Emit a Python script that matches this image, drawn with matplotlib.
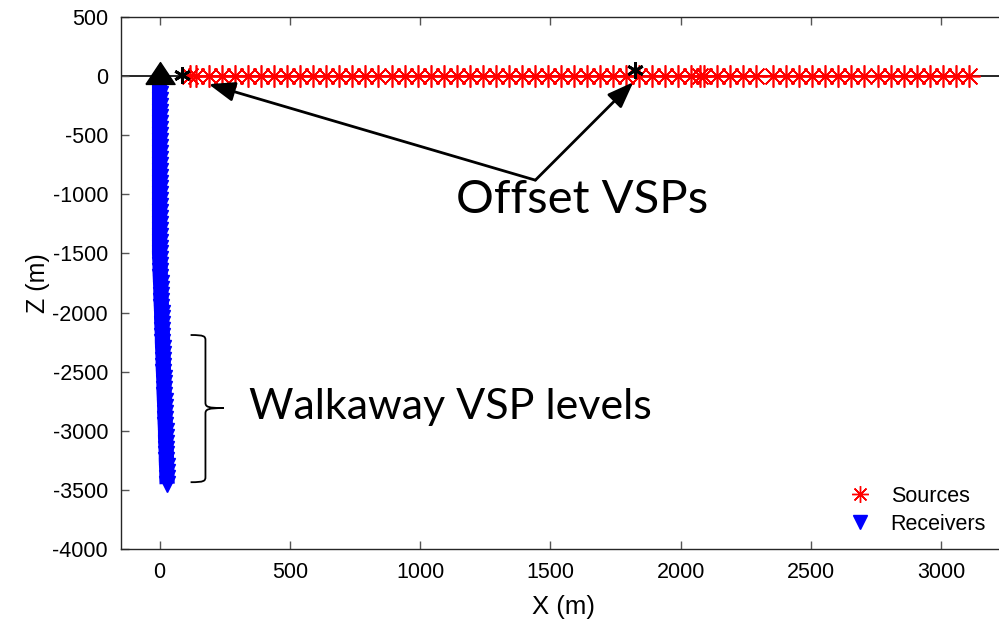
import matplotlib
matplotlib.use('Agg')
import matplotlib.pyplot as plt
from matplotlib.path import Path
from matplotlib.patches import PathPatch
from matplotlib.lines import Line2D

plt.rcParams['axes.unicode_minus'] = False

# Source positions along the surface line (m)
sources_x = [115, 140, 190, 240, 290, 340, 390, 440, 490, 540, 590, 640, 690,
             740, 790, 840, 890, 940, 990, 1040, 1090, 1140, 1190, 1240, 1290,
             1340, 1390, 1440, 1490, 1540, 1590, 1640, 1690, 1740, 1790, 1840,
             1890, 1940, 1990, 2040, 2075, 2090, 2140, 2190, 2240, 2290, 2355,
             2405, 2455, 2505, 2555, 2605, 2655, 2705, 2755, 2805, 2855, 2905,
             2955, 3005, 3055, 3105]
sources_z = [0.0] * len(sources_x)

# Receiver levels in the well (m)
rec_z = [-50, -100, -150, -200, -250, -300, -350, -400, -450, -500,
         -550, -600, -650, -700, -750, -800, -850, -900, -950, -1000,
         -1050, -1100, -1150, -1200, -1250, -1300, -1350, -1400, -1450, -1500,
         -1550, -1600, -1650, -1700, -1750, -1800, -1850, -1900, -1950, -2000,
         -2050, -2100, -2150, -2200, -2250, -2300, -2350, -2400, -2450, -2500,
         -2550, -2600, -2650, -2700, -2750, -2800, -2850, -2900, -2950, -3000,
         -3050, -3100, -3150, -3200, -3250, -3300, -3350, -3400, -3450]
rec_x = [0, 0, 0, 0, 0, 0, 0, 0, 0, 0,
         0, 0, 0, 0, 0, 0, 0, 0, 0, 0,
         0, 0, 0, 0, 0, 0, 0, 0, 0, 0,
         1, 2, 2, 3, 4, 5, 5, 6, 7, 8,
         8, 9, 10, 11, 11, 12, 13, 14, 14, 15,
         16, 17, 17, 18, 19, 20, 20, 21, 22, 23,
         23, 24, 25, 26, 26, 27, 28, 28, 29]

# Wellhead and the two offset VSP shot points
well_x, well_z = [0], [30]
offset_x = [85, 1825]
offset_z = [10, 50]

fig = plt.figure(figsize=(9.99, 6.23), dpi=100)
ax = fig.add_axes([120.5 / 999, 74 / 623, 886 / 999, 532 / 623])

axis_col = '#262626'

ax.axhline(0, color='k', lw=1.2, zorder=1)
ax.plot(sources_x, sources_z, color='r', lw=1.2, zorder=2)
ax.plot(sources_x, sources_z, ls='none', marker=(8, 2, 0), ms=16,
        mec='r', mew=1.2, zorder=3, label='Sources')

ax.plot(rec_x, rec_z, color='b', lw=11, solid_capstyle='butt', zorder=2)
ax.plot(rec_x, rec_z, ls='none', marker='v', ms=12, color='b', zorder=3,
        label='Receivers')

# wellhead drawn as a flat, wide triangle
wellhead = [(-1.2, -0.9), (1.2, -0.9), (0, 0.9), (-1.2, -0.9)]
ax.plot(well_x, well_z, ls='none', marker=wellhead, ms=21, color='k', zorder=5)
ax.plot(offset_x, offset_z, ls='none', marker=(6, 2, 0), ms=12, mec='k',
        mew=2.0, zorder=5)

ax.set_xlim(-150, 3250)
ax.set_ylim(-4000, 500)
ax.set_xticks([0, 500, 1000, 1500, 2000, 2500, 3000])
ax.set_yticks([-4000, -3500, -3000, -2500, -2000, -1500, -1000, -500, 0, 500])
ax.tick_params(direction='in', length=6, width=1, color='#555555',
               top=True, right=True, pad=9, labelcolor='k')
for lab in ax.get_xticklabels() + ax.get_yticklabels():
    lab.set_fontfamily('Liberation Sans')
    lab.set_fontsize(15.5)
for sp in ax.spines.values():
    sp.set_color(axis_col)
    sp.set_linewidth(1.0)

ax.set_xlabel('X (m)', fontfamily='Liberation Sans', fontsize=18.5, labelpad=9)
ax.set_ylabel('Z (m)', fontfamily='Liberation Sans', fontsize=18, labelpad=2)

# Arrows pointing at the offset VSP shots
arrow = dict(arrowstyle='-|>,head_length=0.8,head_width=0.3', color='k',
             lw=2, mutation_scale=20, shrinkA=0, shrinkB=0)
ax.annotate('', xy=(188, -68), xytext=(1442, -880), arrowprops=arrow)
ax.annotate('', xy=(1818, -51), xytext=(1442, -880), arrowprops=arrow)
ax.text(1623, -1050, 'Offset VSPs', fontfamily='Lato', fontsize=34,
        ha='center', va='center')

# Curly brace spanning the walkaway receiver levels
x0, x1, x2 = 119, 176, 246
zt, zm, zb = -2190, -2808, -3435
r = 45
verts = [(x0, zt), (x1 - 5, zt), (x1, zt - 10), (x1, zt - r),
         (x1, zm + r),
         (x1, zm + 10), (x1 + 10, zm), (x2, zm),
         (x1 + 10, zm), (x1, zm - 10), (x1, zm - r),
         (x1, zb + r),
         (x1, zb + 10), (x1 - 5, zb), (x0, zb)]
codes = [Path.MOVETO, Path.CURVE4, Path.CURVE4, Path.CURVE4,
         Path.LINETO,
         Path.CURVE4, Path.CURVE4, Path.CURVE4,
         Path.CURVE4, Path.CURVE4, Path.CURVE4,
         Path.LINETO,
         Path.CURVE4, Path.CURVE4, Path.CURVE4]
ax.add_patch(PathPatch(Path(verts, codes), fc='none', ec='k', lw=1.3))
ax.text(1116, -2800, 'Walkaway VSP levels', fontfamily='Lato', fontsize=31,
        ha='center', va='center')

handles = [Line2D([], [], ls='none', marker=(8, 2, 0), ms=12, mec='r', mew=1.0),
           Line2D([], [], ls='none', marker='v', ms=10, color='b')]
ax.legend(handles, ['Sources', 'Receivers'], frameon=False,
          prop={'family': 'Liberation Sans', 'size': 15.5},
          loc='upper left', bbox_to_anchor=(838 / 999, 1 - 477 / 623),
          bbox_transform=fig.transFigure, handlelength=1.2, handletextpad=0.85,
          labelspacing=0.33, borderaxespad=0)

fig.savefig('out.png', dpi=100)
